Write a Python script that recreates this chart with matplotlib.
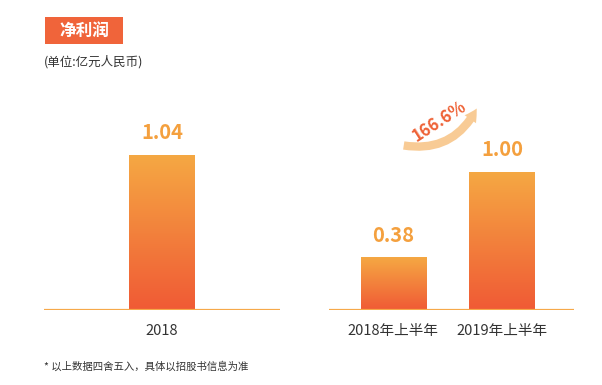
import matplotlib
matplotlib.use("Agg")
import matplotlib.pyplot as plt
import numpy as np
from matplotlib.patches import Rectangle, FancyArrowPatch
from matplotlib.colors import LinearSegmentedColormap

plt.rcParams['font.family'] = ['Noto Sans CJK SC', 'DejaVu Sans']

# ---- data ----
title = '净利润'
unit_label = '(单位:亿元人民币)'
footnote = '* 以上数据四舍五入，具体以招股书信息为准'
annual_labels = ['2018']
annual_values = [1.04]
half_labels = ['2018年上半年', '2019年上半年']
half_values = [0.38, 1.00]
growth_label = '166.6%'

W, H = 602, 385
fig = plt.figure(figsize=(W / 100, H / 100), dpi=100)
fig.patch.set_facecolor('white')

top_col = '#F5A843'
bot_col = '#F05A35'
cmap = LinearSegmentedColormap.from_list('g', [bot_col, top_col])
base_col = '#F6A94A'
label_col = '#F4A03E'
text_col = '#333333'


def px_axes(x0, x1, ybot, ytop):
    return fig.add_axes([x0 / W, 1 - ybot / H, (x1 - x0) / W, (ybot - ytop) / H])


def draw_panel(ax, labels, values, width, xlim, ylim):
    pos = np.arange(len(values))
    bars = ax.bar(pos, values, width=width, color='none', edgecolor='none', zorder=2)
    grad = np.linspace(0, 1, 256).reshape(-1, 1)
    for b in bars:
        x, y = b.get_x(), b.get_y()
        w, h = b.get_width(), b.get_height()
        im = ax.imshow(grad, cmap=cmap, origin='lower', aspect='auto',
                       extent=[x, x + w, y, y + h], zorder=2)
        im.set_clip_path(b)
    for p, v in zip(pos, values):
        ax.annotate(f'{v:.2f}', (p, v), xytext=(0, 22), textcoords='offset pixels',
                    ha='center', va='center', fontsize=14.5, fontweight='bold',
                    color=label_col)
    ax.axhline(0, color=base_col, lw=1.6, zorder=3)
    ax.set_xlim(*xlim)
    ax.set_ylim(*ylim)
    ax.set_xticks(pos)
    ax.set_xticklabels(labels, fontsize=10.5, color=text_col)
    ax.tick_params(axis='x', length=0, pad=10)
    ax.set_yticks([])
    for s in ax.spines.values():
        s.set_visible(False)
    ax.patch.set_alpha(0)


ax1 = px_axes(44, 280, 309.7, 100)
draw_panel(ax1, annual_labels, annual_values, 1.0, (-1.815, 1.815), (0, 209.7 / 149))

ax2 = px_axes(328.6, 573.8, 309.7, 100)
draw_panel(ax2, half_labels, half_values, 0.60, (-0.595, 1.66), (0, 209.7 / 138))

# title box
fig.patches.append(Rectangle((45 / W, 1 - 44 / H), 78 / W, 27 / H,
                             transform=fig.transFigure, facecolor='#F0643A',
                             edgecolor='none'))
fig.text(84 / W, 1 - 30.5 / H, title, ha='center', va='center', color='white',
         fontsize=12, fontweight='bold')
fig.text(44 / W, 1 - 62 / H, unit_label, ha='left', va='center', color=text_col,
         fontsize=9)
fig.text(44 / W, 1 - 367 / H, footnote, ha='left', va='center', color=text_col,
         fontsize=7.5)

# growth arrow
arrow = FancyArrowPatch((401 / W, 1 - 145 / H), (478 / W, 1 - 106 / H),
                        transform=fig.transFigure,
                        connectionstyle='arc3,rad=0.38',
                        arrowstyle='simple,head_width=10,head_length=9,tail_width=6',
                        facecolor='#F8C68A', edgecolor='none', alpha=0.9)
fig.patches.append(arrow)
fig.text(439 / W, 1 - 121 / H, growth_label, ha='center', va='center',
         rotation=33, color='#EE6135', fontsize=12, fontweight='bold')

fig.savefig('out.png', dpi=100, facecolor='white')
